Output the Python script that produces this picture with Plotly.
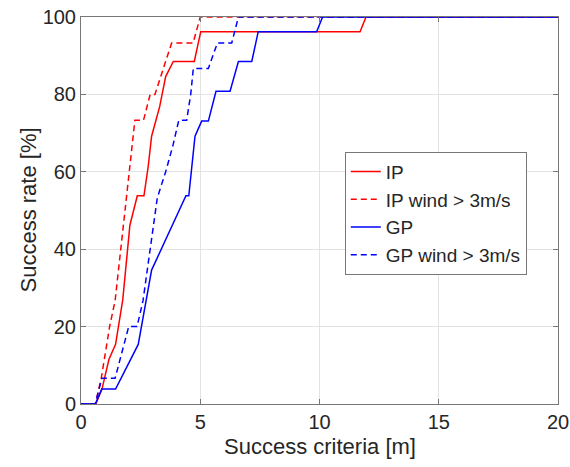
import plotly.graph_objects as go

# IP (all trials)
ip_x = [0, 0.62, 0.88, 1.17, 1.45, 1.75, 2.05, 2.36, 2.64, 2.82, 2.96, 3.3, 3.55, 3.87, 4.75, 5.02, 11.7, 11.95, 20]
ip_y = [0, 0, 3.85, 11.5, 15.4, 26.9, 46.2, 53.8, 53.8, 61.5, 69.2, 76.9, 84.6, 88.5, 88.5, 96.2, 96.2, 100, 100]

# IP wind > 3 m/s
ipw_x = [0, 0.6, 0.85, 1.2, 1.43, 1.9, 2.26, 2.62, 2.9, 3.1, 3.45, 3.8, 4.7, 5.0, 20]
ipw_y = [0, 0, 6.67, 20, 26.7, 53.3, 73.3, 73.3, 80, 80, 86.7, 93.3, 93.3, 100, 100]

# GP (all trials)
gp_x = [0, 0.6, 0.87, 1.45, 2.4, 2.75, 2.96, 4.4, 4.52, 4.78, 5.06, 5.34, 5.66, 6.25, 6.6, 7.16, 7.43, 9.88, 10.13, 20]
gp_y = [0, 0, 3.85, 3.85, 15.4, 26.9, 34.6, 53.8, 53.8, 69.2, 73.1, 73.1, 80.8, 80.8, 88.5, 88.5, 96.2, 96.2, 100, 100]

# GP wind > 3 m/s
gpw_x = [0, 0.6, 0.87, 1.43, 2.0, 2.35, 2.6, 3.2, 3.55, 3.85, 4.1, 4.43, 4.6, 4.71, 5.34, 5.72, 6.32, 6.6, 20]
gpw_y = [0, 0, 6.67, 6.67, 20, 20, 26.7, 53.3, 60, 66.7, 73.3, 73.3, 80, 86.7, 86.7, 93.3, 93.3, 100, 100]

x_ticks = [0, 5, 10, 15, 20]
y_ticks = [0, 20, 40, 60, 80, 100]

x_title = "Success criteria [m]"
y_title = "Success rate [%]"

RED = "#ff0000"
BLUE = "#0000ff"
DASH = "6px,4px"
LW = 1.5

fig = go.Figure()
fig.add_trace(go.Scatter(x=ip_x, y=ip_y, mode="lines", name="IP",
                         line=dict(color=RED, width=LW)))
fig.add_trace(go.Scatter(x=ipw_x, y=ipw_y, mode="lines", name="IP wind > 3m/s",
                         line=dict(color=RED, width=LW, dash=DASH)))
fig.add_trace(go.Scatter(x=gp_x, y=gp_y, mode="lines", name="GP",
                         line=dict(color=BLUE, width=LW)))
fig.add_trace(go.Scatter(x=gpw_x, y=gpw_y, mode="lines", name="GP wind > 3m/s",
                         line=dict(color=BLUE, width=LW, dash=DASH)))

font_family = "Liberation Sans, Arial, sans-serif"
axis_common = dict(
    showgrid=True, gridcolor="#e3e3e3", gridwidth=1,
    showline=True, linecolor="#777777", linewidth=1, mirror="ticks",
    ticks="inside", ticklen=5, tickcolor="#777777",
    zeroline=False, automargin=False, ticklabeloverflow="allow",
    tickfont=dict(size=20, color="#262626", family=font_family),
)

fig.update_layout(
    width=570, height=467,
    margin=dict(l=81, r=12, t=17, b=63),
    paper_bgcolor="white", plot_bgcolor="white",
    font=dict(family=font_family, color="#262626"),
    xaxis=dict(range=[0, 20], tickvals=x_ticks, **axis_common),
    yaxis=dict(range=[0, 100], tickvals=y_ticks, **axis_common),
    legend=dict(x=0.553, y=0.652, xanchor="left", yanchor="top",
                bgcolor="white", bordercolor="#777777", borderwidth=1,
                font=dict(size=19, color="#262626"), itemwidth=30,
                tracegroupgap=0),
    showlegend=True,
    annotations=[
        dict(text=x_title, xref="paper", yref="paper", x=0.5, y=0,
             xanchor="center", yanchor="middle", yshift=-42, showarrow=False,
             font=dict(size=22, color="#262626")),
        dict(text=y_title, xref="paper", yref="paper", x=0, y=0.5,
             xanchor="center", yanchor="middle", xshift=-53, textangle=-90,
             showarrow=False, font=dict(size=22, color="#262626")),
    ],
)

fig.write_html(
    "out.html",
    config={"displayModeBar": False},
    post_script="document.body.style.margin='0';document.body.style.overflow='hidden';",
)
